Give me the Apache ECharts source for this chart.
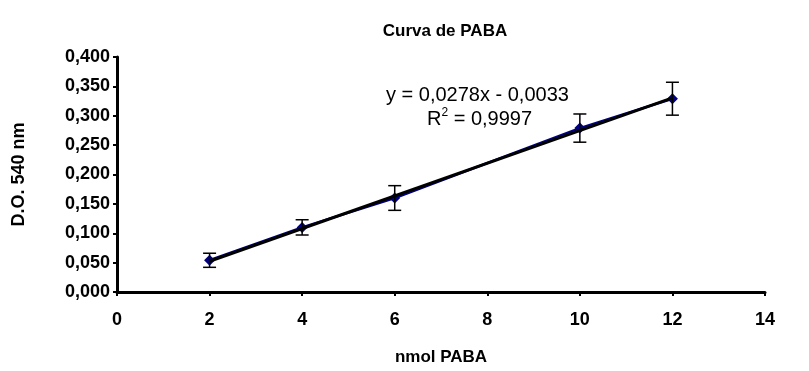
<!DOCTYPE html>
<html><head><meta charset="utf-8">
<script src="https://cdn.jsdelivr.net/npm/echarts@6/dist/echarts.min.js"></script>
<style>html,body{margin:0;padding:0;background:#fff}#c{width:809px;height:371px}</style>
</head><body><div id="c"></div>
<script>
const xValues = [2, 4, 6, 10, 12];
const yValues = [0.054, 0.110, 0.160, 0.279, 0.329];
const yErrors = [0.012, 0.013, 0.021, 0.024, 0.028];
const slope = 0.0278, intercept = -0.0033;
const trendX = [2, 12];
const eqText = 'y = 0,0278x - 0,0033';
const r2Value = '0,9997';

const font = '"Liberation Sans", Arial, sans-serif';
const pts = xValues.map((x, i) => [x, yValues[i]]);
const errData = xValues.map((x, i) => [x, yValues[i] - yErrors[i], yValues[i] + yErrors[i]]);
const trend = trendX.map(x => [x, slope * x + intercept]);

const chart = echarts.init(document.getElementById('c'));
chart.setOption({
  animation: false,
  backgroundColor: '#fff',
  title: { text: 'Curva de PABA', left: 440, top: 18, textAlign: 'center',
    textStyle: { fontFamily: font, fontSize: 17, fontWeight: 'bold', color: '#000' } },
  grid: { left: 117, right: 44, top: 57, bottom: 77 },
  xAxis: {
    type: 'value', min: 0, max: 14, interval: 2,
    name: 'nmol PABA', nameLocation: 'middle', nameGap: 57,
    nameTextStyle: { fontFamily: font, fontSize: 17, fontWeight: 'bold', color: '#000' },
    axisLine: { lineStyle: { color: '#000', width: 3 } },
    axisTick: { lineStyle: { color: '#000', width: 2 }, length: 4 },
    axisLabel: { fontFamily: font, fontSize: 18, fontWeight: 'bold', color: '#000', margin: 19 },
    splitLine: { show: false }
  },
  yAxis: {
    type: 'value', min: 0, max: 0.4, interval: 0.05,
    name: 'D.O. 540 nm', nameLocation: 'middle', nameGap: 89, nameRotate: 90,
    nameTextStyle: { fontFamily: font, fontSize: 18, fontWeight: 'bold', color: '#000' },
    axisLine: { show: true, lineStyle: { color: '#000', width: 3 } },
    axisTick: { show: true, lineStyle: { color: '#000', width: 2 }, length: 4 },
    axisLabel: { fontFamily: font, fontSize: 18, fontWeight: 'bold', color: '#000', margin: 7,
      formatter: v => v.toFixed(3).replace('.', ',') },
    splitLine: { show: false }
  },
  series: [
    { type: 'line', data: pts, symbol: 'diamond', symbolSize: 11,
      itemStyle: { color: '#000080' }, lineStyle: { color: '#000080', width: 2.5 }, z: 3 },
    { type: 'custom', data: errData, z: 4,
      renderItem: (params, api) => {
        const x = api.value(0);
        const lo = api.coord([x, api.value(1)]);
        const hi = api.coord([x, api.value(2)]);
        const hw = 6.5;
        const st = { stroke: '#000', lineWidth: 1.5 };
        return { type: 'group', children: [
          { type: 'line', shape: { x1: lo[0], y1: lo[1], x2: hi[0], y2: hi[1] }, style: st },
          { type: 'line', shape: { x1: lo[0] - hw, y1: lo[1], x2: lo[0] + hw, y2: lo[1] }, style: st },
          { type: 'line', shape: { x1: hi[0] - hw, y1: hi[1], x2: hi[0] + hw, y2: hi[1] }, style: st }
        ]};
      } },
    { type: 'line', data: trend, symbol: 'none', lineStyle: { color: '#000', width: 3 }, z: 5 }
  ],
  graphic: [
    { type: 'text', left: 386, top: 85, style: { text: eqText, fontFamily: font, fontSize: 20, fill: '#000' } },
    { type: 'text', left: 427, top: 107, style: {
      text: '{a|R}{s|2}{a| = ' + r2Value + '}',
      rich: { a: { fontFamily: font, fontSize: 20, fill: '#000', verticalAlign: 'bottom' },
              s: { fontFamily: font, fontSize: 12, fill: '#000', verticalAlign: 'top', padding: [0,0,10,0] } } } }
  ]
});
</script></body></html>
